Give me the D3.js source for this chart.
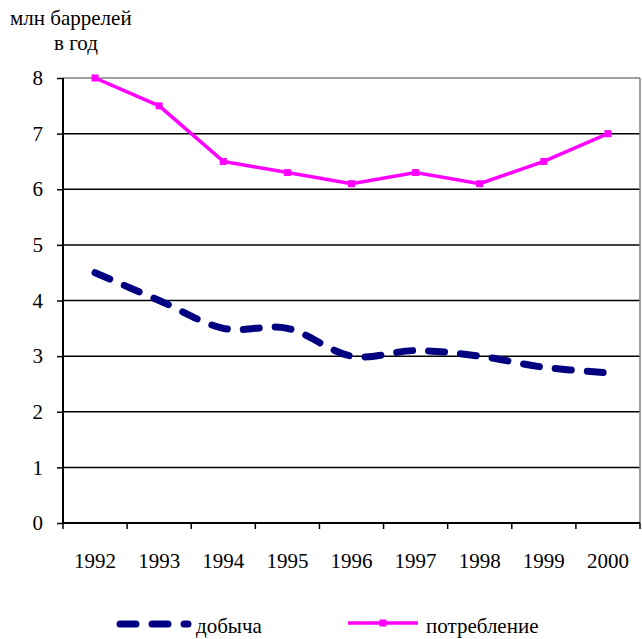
<!DOCTYPE html>
<html>
<head>
<meta charset="utf-8">
<script src="https://cdn.jsdelivr.net/npm/d3@7"></script>
<style>
body { margin: 0; background: #fff; }
svg text { font-family: "Times New Roman", Times, "Liberation Serif", "DejaVu Serif", "Noto Serif", FreeSerif, serif; fill: #000; }
</style>
</head>
<body>
<div class="chart"></div>
<script>
const years = ["1992","1993","1994","1995","1996","1997","1998","1999","2000"];
const dobycha = [4.5, 4.0, 3.5, 3.5, 3.0, 3.1, 3.0, 2.8, 2.7];
const potreblenie = [8.0, 7.5, 6.5, 6.3, 6.1, 6.3, 6.1, 6.5, 7.0];
const yTicks = [0,1,2,3,4,5,6,7,8];

const width = 642, height = 639;
const plotLeft = 63, plotRight = 640, plotTop = 78, plotBottom = 523;
const fs = 21;

const svg = d3.select(".chart").append("svg")
    .attr("width", width)
    .attr("height", height);

const xScale = d3.scaleBand()
    .domain(years)
    .range([plotLeft, plotRight]);

const yScale = d3.scaleLinear()
    .domain([0, 8])
    .range([plotBottom, plotTop]);

// grid
svg.append("g")
    .selectAll("line")
    .data(yTicks.filter(d => d > 0))
    .join("line")
    .attr("x1", plotLeft)
    .attr("x2", plotRight)
    .attr("y1", d => yScale(d))
    .attr("y2", d => yScale(d))
    .attr("stroke", d => d == 8 ? "#808080" : "#000")
    .attr("stroke-width", 1.5);

svg.append("line")
    .attr("x1", plotRight).attr("x2", plotRight)
    .attr("y1", plotTop).attr("y2", plotBottom)
    .attr("stroke", "#808080")
    .attr("stroke-width", 1.5);

// y axis
const yAxis = d3.axisLeft(yScale)
    .tickValues(yTicks)
    .tickSize(6)
    .tickPadding(14)
    .tickFormat(d3.format("d"));

const gy = svg.append("g")
    .attr("transform", `translate(${plotLeft},0)`)
    .call(yAxis)
    .attr("font-family", null)
    .attr("font-size", fs);
gy.select(".domain").attr("stroke-width", 2).attr("d", `M0,${plotTop}V${plotBottom}`);
gy.selectAll(".tick line").attr("stroke-width", 1.5);

// x axis with ticks between categories
const gx = svg.append("g")
    .attr("transform", `translate(0,${plotBottom})`);
gx.append("line")
    .attr("x1", plotLeft).attr("x2", plotRight)
    .attr("stroke", "#000").attr("stroke-width", 2);
gx.selectAll(".xt")
    .data(years.concat(["end"]))
    .join("line")
    .attr("class", "xt")
    .attr("x1", (d, i) => plotLeft + i * xScale.step())
    .attr("x2", (d, i) => plotLeft + i * xScale.step())
    .attr("y1", 0).attr("y2", 6)
    .attr("stroke", "#000").attr("stroke-width", 1.5);
gx.selectAll("text")
    .data(years)
    .join("text")
    .attr("x", d => xScale(d) + xScale.bandwidth() / 2)
    .attr("y", 45)
    .attr("text-anchor", "middle")
    .attr("font-size", fs)
    .text(d => d);

const cx = d => xScale(d) + xScale.bandwidth() / 2;

// dobycha - smoothed dashed line
const lineSmooth = d3.line()
    .x((d, i) => cx(years[i]))
    .y(d => yScale(d))
    .curve(d3.curveCatmullRom.alpha(0));

svg.append("path")
    .datum(dobycha)
    .attr("d", lineSmooth)
    .attr("fill", "none")
    .attr("stroke", "#000080")
    .attr("stroke-width", 7)
    .attr("stroke-linecap", "round")
    .attr("stroke-dasharray", "16,16");

// potreblenie
const line = d3.line()
    .x((d, i) => cx(years[i]))
    .y(d => yScale(d));

svg.append("path")
    .datum(potreblenie)
    .attr("d", line)
    .attr("fill", "none")
    .attr("stroke", "#FF00FF")
    .attr("stroke-width", 3.5);

svg.append("g")
    .selectAll("rect")
    .data(potreblenie)
    .join("rect")
    .attr("x", (d, i) => cx(years[i]) - 3.5)
    .attr("y", d => yScale(d) - 3.5)
    .attr("width", 7)
    .attr("height", 7)
    .attr("fill", "#FF00FF");

// title
svg.append("text")
    .attr("x", 10).attr("y", 25)
    .attr("font-size", fs)
    .text("млн баррелей");
svg.append("text")
    .attr("x", 54).attr("y", 50)
    .attr("font-size", fs)
    .text("в год");

// legend
const lg = svg.append("g");
lg.append("line")
    .attr("x1", 120).attr("x2", 188)
    .attr("y1", 624).attr("y2", 624)
    .attr("stroke", "#000080")
    .attr("stroke-width", 7)
    .attr("stroke-linecap", "round")
    .attr("stroke-dasharray", "16,16");
lg.append("text")
    .attr("x", 196).attr("y", 633)
    .attr("font-size", fs)
    .text("добыча");
lg.append("line")
    .attr("x1", 348).attr("x2", 418)
    .attr("y1", 623).attr("y2", 623)
    .attr("stroke", "#FF00FF")
    .attr("stroke-width", 3.5);
lg.append("rect")
    .attr("x", 379.5).attr("y", 619.5)
    .attr("width", 7).attr("height", 7)
    .attr("fill", "#FF00FF");
lg.append("text")
    .attr("x", 426).attr("y", 633)
    .attr("font-size", fs)
    .text("потребление");
</script>
</body>
</html>
